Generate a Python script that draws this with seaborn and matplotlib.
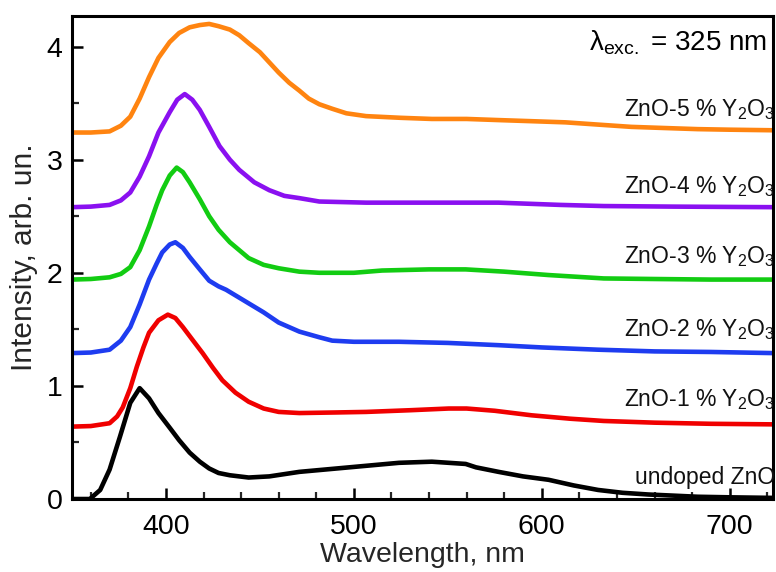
import numpy as np
import pandas as pd
import matplotlib
matplotlib.use("Agg")
import matplotlib.pyplot as plt
import seaborn as sns

# ---- data ----
x_undoped = [350, 359.5, 365, 370, 375.5, 381, 386, 391, 396, 402, 407, 412.6, 418, 423, 428, 434, 444, 455, 471,
             497.5, 524, 541.5, 559.5, 565, 577, 590, 603.6, 617, 630, 643, 656.6, 670, 683, 700, 723]
y_undoped = [0.0, 0.0, 0.08, 0.26, 0.55, 0.85, 0.98, 0.89, 0.76, 0.63, 0.52, 0.41, 0.33, 0.27, 0.23, 0.21, 0.19, 0.20, 0.24,
             0.28, 0.32, 0.33, 0.31, 0.28, 0.24, 0.20, 0.17, 0.12, 0.08, 0.055, 0.04, 0.03, 0.02, 0.015, 0.01]

x_1 = [350, 360, 370, 374, 377, 381, 384.5, 388, 391, 396, 401, 405, 409, 414, 419.5, 425, 430, 437, 444, 452, 460,
       471, 490, 506.5, 530, 550.5, 560, 575, 594.6, 615, 633, 660, 690, 723]
y_1 = [0.64, 0.645, 0.67, 0.73, 0.81, 0.98, 1.17, 1.34, 1.47, 1.58, 1.63, 1.60, 1.52, 1.41, 1.29, 1.16, 1.05, 0.94, 0.86, 0.80, 0.77,
       0.76, 0.765, 0.77, 0.785, 0.80, 0.80, 0.78, 0.74, 0.71, 0.69, 0.675, 0.665, 0.66]

x_2 = [350, 360, 370, 376, 381, 386, 391, 395, 398, 402, 405, 409, 412.6, 418, 423, 428, 432, 438, 444, 452, 460, 471,
       481.6, 488.5, 500, 524, 550, 577, 600, 630, 660, 690, 723]
y_2 = [1.29, 1.295, 1.32, 1.40, 1.52, 1.72, 1.94, 2.08, 2.18, 2.25, 2.27, 2.22, 2.14, 2.03, 1.93, 1.88, 1.85, 1.79, 1.73, 1.65, 1.56, 1.48,
       1.43, 1.40, 1.39, 1.39, 1.38, 1.36, 1.34, 1.32, 1.305, 1.30, 1.29]

x_3 = [350, 360, 370, 376, 381, 386, 391, 395, 398, 402, 405.7, 409, 412.6, 418, 423, 428, 434, 444, 452, 460, 471,
       481.6, 500, 515, 540, 559.5, 580, 603.6, 633, 660, 690, 723]
y_3 = [1.94, 1.945, 1.96, 1.99, 2.05, 2.20, 2.41, 2.60, 2.73, 2.86, 2.93, 2.89, 2.80, 2.65, 2.50, 2.38, 2.27, 2.13, 2.07, 2.04, 2.01,
       2.00, 2.00, 2.02, 2.03, 2.03, 2.01, 1.98, 1.95, 1.945, 1.94, 1.94]

x_4 = [350, 360, 370, 376, 381, 386, 391, 396, 402, 406, 410, 414, 418, 423, 428.5, 434, 439, 447, 455, 463, 471,
       481.6, 506.5, 540, 577, 610, 633, 670, 723]
y_4 = [2.58, 2.585, 2.60, 2.64, 2.71, 2.85, 3.03, 3.24, 3.42, 3.53, 3.58, 3.53, 3.44, 3.29, 3.12, 3.00, 2.91, 2.80, 2.73, 2.68, 2.66,
       2.63, 2.62, 2.62, 2.62, 2.60, 2.59, 2.585, 2.58]

x_5 = [350, 360, 370, 376, 381, 386, 391, 396, 402, 407, 412.6, 418, 423, 428, 434, 439, 444, 450, 455, 460, 465.6, 471,
       476, 481.6, 488.5, 496, 506.5, 525, 541.5, 560, 577, 595, 612.6, 630, 647.6, 665, 683, 700, 723]
y_5 = [3.24, 3.24, 3.25, 3.30, 3.38, 3.54, 3.73, 3.90, 4.04, 4.12, 4.17, 4.19, 4.20, 4.18, 4.15, 4.10, 4.03, 3.95, 3.86, 3.77, 3.68, 3.61,
       3.54, 3.49, 3.45, 3.41, 3.385, 3.37, 3.36, 3.36, 3.35, 3.34, 3.33, 3.31, 3.29, 3.28, 3.27, 3.265, 3.26]

series_names = ["undoped ZnO", "ZnO-1 % Y2O3", "ZnO-2 % Y2O3", "ZnO-3 % Y2O3", "ZnO-4 % Y2O3", "ZnO-5 % Y2O3"]
series_x = [x_undoped, x_1, x_2, x_3, x_4, x_5]
series_y = [y_undoped, y_1, y_2, y_3, y_4, y_5]
colors = ["#000000", "#F00000", "#1E3CF0", "#12CC12", "#8A10F0", "#FF8410"]

label_texts = ["undoped ZnO",
               "ZnO-1 % Y$_\\mathregular{2}$O$_\\mathregular{3}$",
               "ZnO-2 % Y$_\\mathregular{2}$O$_\\mathregular{3}$",
               "ZnO-3 % Y$_\\mathregular{2}$O$_\\mathregular{3}$",
               "ZnO-4 % Y$_\\mathregular{2}$O$_\\mathregular{3}$",
               "ZnO-5 % Y$_\\mathregular{2}$O$_\\mathregular{3}$"]
label_y = [0.19, 0.88, 1.50, 2.14, 2.76, 3.44]

x_ticks = [400, 500, 600, 700]
y_ticks = [0, 1, 2, 3, 4]

# ---- build long table ----
frames = []
for name, xs, ys in zip(series_names, series_x, series_y):
    frames.append(pd.DataFrame({"wavelength": xs, "intensity": ys, "sample": name}))
df = pd.concat(frames, ignore_index=True)

sns.set_theme(style="ticks")
plt.rcParams["font.family"] = ["Liberation Sans", "DejaVu Sans"]
plt.rcParams["mathtext.fontset"] = "custom"
plt.rcParams["mathtext.rm"] = "Liberation Sans"
plt.rcParams["mathtext.it"] = "Liberation Sans:italic"

fig = plt.figure(figsize=(7.76, 5.72), dpi=100)
ax = fig.add_axes([0.0928, 0.1276, 0.9032, 0.8444])

sns.lineplot(data=df, x="wavelength", y="intensity", hue="sample", hue_order=series_names,
             palette=dict(zip(series_names, colors)), estimator=None, sort=False,
             linewidth=3.3, legend=False, ax=ax)
for line in ax.lines:
    line.set_solid_joinstyle("round")
    line.set_solid_capstyle("round")

ax.set_xlim(350, 723)
ax.set_ylim(0, 4.27)
ax.set_xticks(x_ticks)
ax.set_yticks(y_ticks)
ax.set_xticks(np.arange(360, 723, 20), minor=True)
ax.set_yticks(np.arange(0.5, 4.27, 1.0), minor=True)
ax.tick_params(axis="both", which="major", direction="in", length=8, width=1.8,
               labelsize=20.5, colors="black", top=False, right=False)
ax.tick_params(axis="both", which="minor", direction="in", length=5, width=1.6, top=False, right=False)
ax.tick_params(axis="x", pad=11)
ax.tick_params(axis="y", pad=7)
for sp in ax.spines.values():
    sp.set_linewidth(2.2)
    sp.set_color("black")

ax.set_xlabel("Wavelength, nm", fontsize=20.5, labelpad=1)
ax.set_ylabel("Intensity, arb. un.", fontsize=21.5, labelpad=6)

for txt, yy in zip(label_texts, label_y):
    ax.text(724, yy, txt, ha="right", va="center", fontsize=16.5, color="#111111")

ax.text(720, 4.03, "λ$_\\mathregular{exc.}$ = 325 nm", ha="right", va="center", fontsize=20, color="black")

fig.savefig("out.png", dpi=100)
